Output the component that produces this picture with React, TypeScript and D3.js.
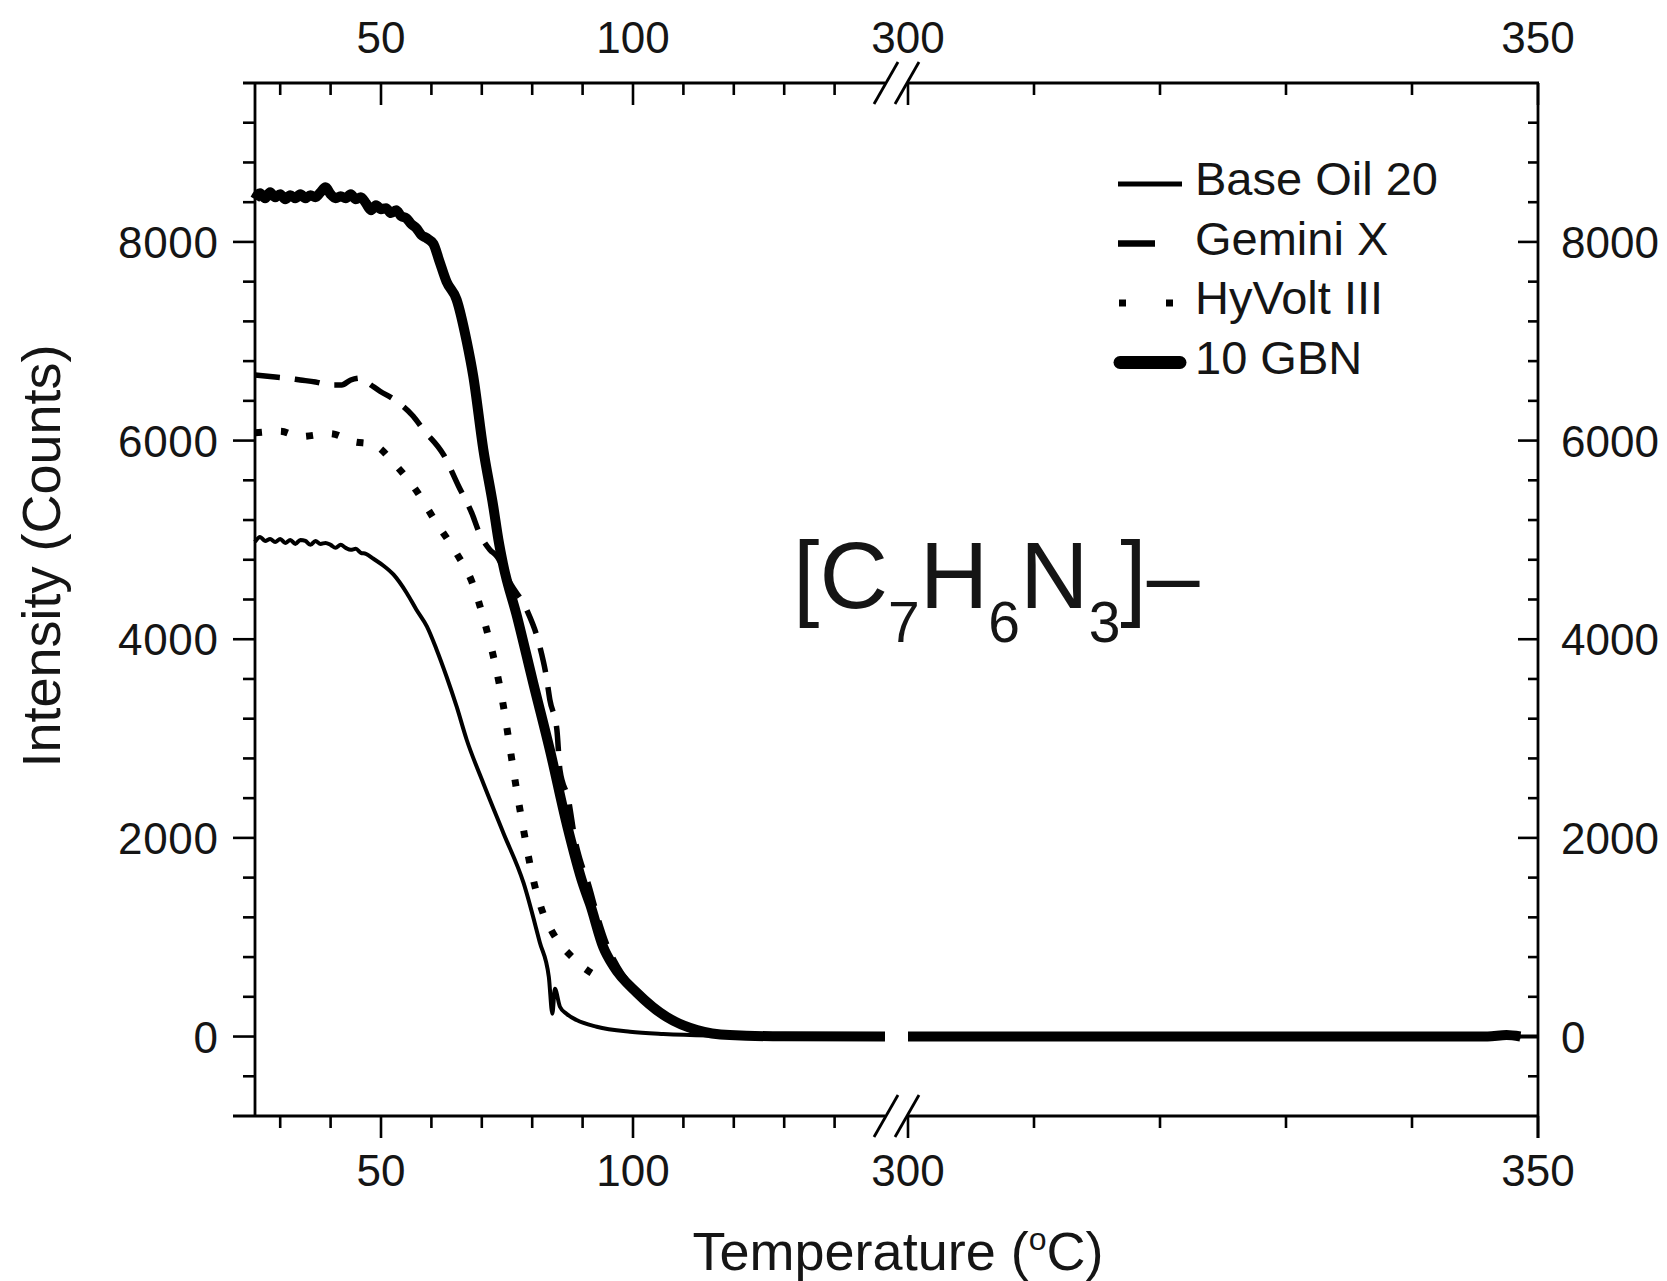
import React from 'react';
import * as d3 from 'd3';

const W = 1667;
const H = 1281;

// ---- axis definitions ----
const leftDomain = [25, 150];
const rightDomain = [300, 350];
const yDomain = [-800, 9600];
const yMajorTicks = [0, 2000, 4000, 6000, 8000];
const yMinorTicks = [-400, 400, 800, 1200, 1600, 2400, 2800, 3200, 3600, 4400, 4800, 5200, 5600, 6400, 6800, 7200, 7600, 8400, 8800, 9200];
const xLeftMajor = [50, 100];
const xLeftMinor = [30, 40, 60, 70, 80, 90, 110, 120, 130, 140];
const xRightMajor = [300, 350];
const xRightMinor = [310, 320, 330, 340];

const seriesNames = ['Base Oil 20', 'Gemini X', 'HyVolt III', '10 GBN'];

// ---- data: left segment (25–150 °C) ----
const baseOilT = [25, 26, 27, 28, 29, 30, 31, 32, 33, 34, 35, 36, 37, 38, 39, 40, 41, 42, 43, 44, 45, 46, 47, 48.5, 50.5, 52.5, 55.1, 57, 59.1, 61, 63, 65, 67, 70.3, 74.3, 78.3, 81.5, 83.3, 84.0, 84.5, 85.5, 86.8, 88.8, 92.8, 99.4, 106, 115, 130, 150];
const baseOilI = [4980, 5030, 4990, 5010, 4980, 5010, 4970, 5000, 4960, 5000, 4990, 4950, 4990, 4960, 4970, 4950, 4920, 4950, 4920, 4900, 4910, 4870, 4860, 4810, 4740, 4650, 4466, 4300, 4129, 3900, 3625, 3323, 2988, 2551, 2047, 1544, 950, 600, 230, 480, 300, 230, 166, 99, 48, 25, 10, 3, 0];

const geminiT = [25, 28, 31, 34, 37, 40, 42.2, 44, 46, 48, 49.8, 52.4, 56.4, 58.4, 62.4, 65.4, 68, 69.6, 71.6, 73, 75.6, 78.9, 81.5, 82.8, 83.5, 84.9, 85.5, 87.2, 88.5, 89.5, 91, 93, 95, 97, 101, 107, 113, 120, 130, 150];
const geminiI = [6660, 6645, 6630, 6610, 6590, 6560, 6560, 6610, 6630, 6560, 6497, 6420, 6245, 6111, 5859, 5540, 5272, 5060, 4902, 4834, 4567, 4298, 3928, 3625, 3391, 3088, 2685, 2383, 1980, 1779, 1560, 1200, 900, 700, 440, 195, 62, 14, 2, 0];

const hyvoltT = [25, 30, 33.9, 39.9, 44.5, 48.5, 52.8, 57.1, 60.7, 64.8, 68, 70.6, 72.6, 74.3, 75.6, 76.9, 78.4, 80, 82.1, 83.9, 88.5, 94.5];
const hyvoltI = [6078, 6094, 6040, 6070, 5990, 5960, 5759, 5490, 5195, 4880, 4583, 4163, 3760, 3323, 2904, 2484, 2047, 1627, 1250, 1060, 771, 560];

const gbnT = [25, 26, 27, 28, 29, 30, 31, 32, 33, 34, 35, 36, 37, 38, 39, 40, 41, 42, 43, 44, 45, 46, 47, 48, 49, 50, 51, 52, 53, 54, 55, 56, 57, 58, 59, 60.4, 61.5, 63, 65, 67, 68.3, 70.3, 72.3, 73.3, 74.2, 77, 80.2, 83.5, 86.9, 90.1, 91.5, 94.1, 96.1, 100.8, 106.7, 112.7, 119.2, 130, 150];
const gbnI = [8430, 8490, 8440, 8500, 8450, 8480, 8430, 8470, 8440, 8480, 8440, 8470, 8450, 8500, 8550, 8480, 8440, 8460, 8440, 8480, 8430, 8450, 8390, 8320, 8370, 8330, 8340, 8290, 8320, 8260, 8240, 8180, 8140, 8070, 8040, 7980, 7820, 7600, 7420, 7000, 6650, 5910, 5330, 5000, 4760, 4227, 3560, 2887, 2130, 1530, 1330, 900, 710, 440, 196, 65, 15, 2, 0];

// ---- data: right segment (300–350 °C) ----
const baseOilRightT = [300, 350];
const baseOilRightI = [0, 0];
const geminiRightT = [300, 348.6];
const geminiRightI = [0, 0];
const gbnRightT = [300, 310, 320, 330, 340, 346, 347.5, 348.6];
const gbnRightI = [0, 0, 0, 0, 0, 0, 15, 0];

const FONT = '"Liberation Sans", Arial, Helvetica, sans-serif';

export default function App() {
  const xL = d3.scaleLinear().domain(leftDomain).range([255, 885]);
  const xR = d3.scaleLinear().domain(rightDomain).range([908, 1538]);
  const y = d3.scaleLinear().domain(yDomain).range([1116, 83]);

  const top = y(yDomain[1]);
  const bottom = y(yDomain[0]);
  const left = xL(leftDomain[0]);
  const leftEnd = xL(leftDomain[1]);
  const rightStart = xR(rightDomain[0]);
  const right = xR(rightDomain[1]);

  const mk = (xs: number[], ys: number[]) => xs.map((t, i) => [t, ys[i]] as [number, number]);
  const lineL = d3.line<[number, number]>().x(d => xL(d[0])).y(d => y(d[1])).curve(d3.curveMonotoneX);
  const lineR = d3.line<[number, number]>().x(d => xR(d[0])).y(d => y(d[1])).curve(d3.curveMonotoneX);

  const major = 22;
  const minor = 12;
  const axisW = 2.8;
  const ink = '#151515';

  const slash = (cx: number, cy: number, key: string) => (
    <line key={key} x1={cx - 12} y1={cy + 21} x2={cx + 12} y2={cy - 21} stroke="#000" strokeWidth={2.8} />
  );

  const legendX0 = 1118;
  const legendX1 = 1182;
  const legendRowY = (i: number) => 184 + i * 59.5;

  return (
    <svg width={W} height={H} style={{ position: 'absolute', left: 0, top: 0, background: '#fff' }} fontFamily={FONT}>
      <rect x={0} y={0} width={W} height={H} fill="#fff" />

      {/* data lines, left segment */}
      <g fill="none" stroke="#000" strokeLinejoin="round">
        <path d={lineL(mk(baseOilT, baseOilI)) || ''} strokeWidth={4} />
        <path d={lineL(mk(geminiT, geminiI)) || ''} strokeWidth={5.5} strokeDasharray="25 15" />
        <path d={lineL(mk(hyvoltT, hyvoltI)) || ''} strokeWidth={7} strokeDasharray="7 19" />
        <path d={lineL(mk(gbnT, gbnI)) || ''} strokeWidth={10} />
        {/* right segment */}
        <path d={lineR(mk(baseOilRightT, baseOilRightI)) || ''} strokeWidth={4} />
        <path d={lineR(mk(geminiRightT, geminiRightI)) || ''} strokeWidth={5.5} />
        <path d={lineR(mk(gbnRightT, gbnRightI)) || ''} strokeWidth={10} />
      </g>

      {/* axes frame */}
      <g stroke="#000" strokeWidth={axisW} fill="none">
        <line x1={left} y1={top} x2={left} y2={bottom} />
        <line x1={right} y1={top} x2={right} y2={bottom + major} />
        <line x1={left - minor} y1={top} x2={leftEnd} y2={top} />
        <line x1={rightStart} y1={top} x2={right + 1} y2={top} />
        <line x1={left - major} y1={bottom} x2={leftEnd} y2={bottom} />
        <line x1={rightStart} y1={bottom} x2={right + 1} y2={bottom} />
        {slash(leftEnd + 1, top, 's1')}
        {slash(rightStart - 1, top, 's2')}
        {slash(leftEnd + 1, bottom, 's3')}
        {slash(rightStart - 1, bottom, 's4')}
      </g>

      {/* ticks */}
      <g stroke="#000" strokeWidth={2.6}>
        {yMajorTicks.map(v => (
          <g key={'ym' + v}>
            <line x1={left - major} x2={left} y1={y(v)} y2={y(v)} />
            <line x1={right - 20} x2={right} y1={y(v)} y2={y(v)} />
          </g>
        ))}
        {yMinorTicks.map(v => (
          <g key={'yn' + v}>
            <line x1={left - minor} x2={left} y1={y(v)} y2={y(v)} />
            <line x1={right - 10} x2={right} y1={y(v)} y2={y(v)} />
          </g>
        ))}
        {xLeftMajor.map(v => (
          <g key={'xlm' + v}>
            <line x1={xL(v)} x2={xL(v)} y1={bottom} y2={bottom + major} />
            <line x1={xL(v)} x2={xL(v)} y1={top} y2={top + major} />
          </g>
        ))}
        {xLeftMinor.map(v => (
          <g key={'xln' + v}>
            <line x1={xL(v)} x2={xL(v)} y1={bottom} y2={bottom + minor} />
            <line x1={xL(v)} x2={xL(v)} y1={top} y2={top + minor} />
          </g>
        ))}
        {xRightMajor.map(v => (
          <g key={'xrm' + v}>
            <line x1={xR(v)} x2={xR(v)} y1={bottom} y2={bottom + major} />
            <line x1={xR(v)} x2={xR(v)} y1={top} y2={top + major} />
          </g>
        ))}
        {xRightMinor.map(v => (
          <g key={'xrn' + v}>
            <line x1={xR(v)} x2={xR(v)} y1={bottom} y2={bottom + minor} />
            <line x1={xR(v)} x2={xR(v)} y1={top} y2={top + minor} />
          </g>
        ))}
      </g>

      {/* tick labels */}
      <g fontSize={44} fill={ink}>
        {yMajorTicks.map(v => (
          <g key={'yl' + v}>
            <text x={218} y={y(v) + 16} textAnchor="end" textLength={v === 0 ? undefined : 100}>{String(v)}</text>
            <text x={1561} y={y(v) + 16} textAnchor="start">{String(v)}</text>
          </g>
        ))}
        {xLeftMajor.map(v => (
          <g key={'xll' + v}>
            <text x={xL(v)} y={1186} textAnchor="middle">{String(v)}</text>
            <text x={xL(v)} y={53} textAnchor="middle">{String(v)}</text>
          </g>
        ))}
        {xRightMajor.map(v => (
          <g key={'xrl' + v}>
            <text x={xR(v)} y={1186} textAnchor="middle">{String(v)}</text>
            <text x={xR(v)} y={53} textAnchor="middle">{String(v)}</text>
          </g>
        ))}
      </g>

      {/* axis titles */}
      <text x={898} y={1270} textAnchor="middle" fontSize={54} fill={ink}>
        Temperature (<tspan fontSize={32} dy={-20}>o</tspan><tspan dy={20}>C)</tspan>
      </text>
      <text transform="translate(60,556) rotate(-90)" textAnchor="middle" fontSize={54} fill={ink}>
        Intensity (Counts)
      </text>

      {/* species label */}
      <text x={793} y={608} fontSize={95} fill={ink}>
        [C<tspan fontSize={57} dy={34}>7</tspan><tspan dy={-34}>H</tspan><tspan fontSize={57} dy={34}>6</tspan><tspan dy={-34}>N</tspan><tspan fontSize={57} dy={34}>3</tspan><tspan dy={-34}>]–</tspan>
      </text>

      {/* legend */}
      <g>
        {seriesNames.map((name, i) => {
          const ly = legendRowY(i);
          let sample;
          if (i === 0) sample = <line x1={legendX0} x2={legendX1} y1={ly} y2={ly} stroke="#000" strokeWidth={5} />;
          else if (i === 1) sample = <line x1={legendX0} x2={legendX1} y1={ly} y2={ly} stroke="#000" strokeWidth={6.5} strokeDasharray="37 100" />;
          else if (i === 2) sample = <line x1={legendX0 + 1} x2={legendX1} y1={ly} y2={ly} stroke="#000" strokeWidth={7} strokeDasharray="7 40" />;
          else sample = <line x1={legendX0 + 2} x2={legendX1 - 2} y1={ly} y2={ly} stroke="#000" strokeWidth={13} strokeLinecap="round" />;
          return (
            <g key={name}>
              {sample}
              <text x={1195} y={ly + 11} fontSize={47} fill={ink}>{name}</text>
            </g>
          );
        })}
      </g>
    </svg>
  );
}
